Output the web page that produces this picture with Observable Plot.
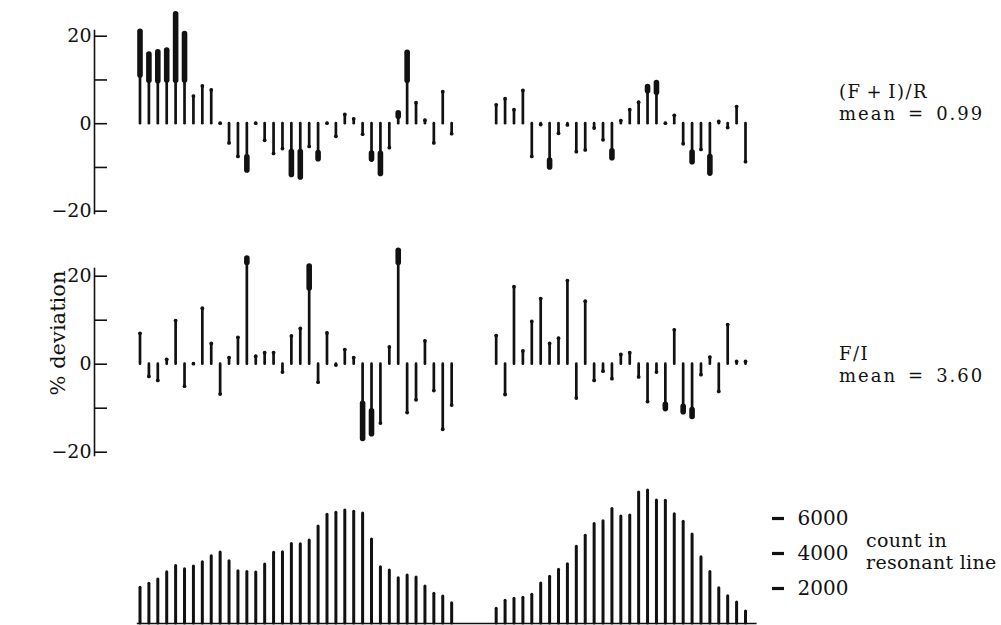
<!DOCTYPE html>
<html><head><meta charset="utf-8">
<script src="https://cdn.jsdelivr.net/npm/d3@7"></script>
<script src="https://cdn.jsdelivr.net/npm/@observablehq/plot@0.6"></script>
<style>
body{margin:0;background:#fff;}
#wrap{position:relative;width:1001px;height:625px;overflow:hidden;font-family:"DejaVu Serif",serif;color:#111;}
#wrap svg{position:absolute;left:0;background:transparent;}
.lab{position:absolute;font-size:20px;line-height:1;white-space:pre;}
</style></head><body><div id="wrap"></div>
<script>
// group sizes (left run, gap in slots, right run)
const groupA = 36, groupGap = 4, groupB = 29;

// (F+I)/R % deviation and error half-widths
const firDev = [16.0,12.8,13.0,13.3,17.4,15.2,6.2,8.5,7.6,0,-4.5,-7.6,-9.2,0,-3.9,-6.9,-5.8,-9.1,-9.4,-5.3,-7.4,0,-3.0,2.0,1.0,-2.5,-7.5,-9.2,-5.6,2.0,13.0,4.7,0.7,-4.5,7.2,-2.4,
  4.2,5.6,3.1,7.5,-7.6,-0.3,-9.2,-2.3,-0.4,-6.5,-6.1,-1.1,-3.8,-7.1,0.6,3.1,4.8,7.9,8.2,0,1.8,-4.7,-7.7,-6.0,-9.5,0.4,-1.0,3.8,-8.8];
const firErr = [5.0,3.0,3.3,3.4,7.6,5.3,0,0,0,0,0,0,1.5,0,0,0,0,2.6,2.9,0,0.7,0,0,0,0,0,0.7,2.3,0,0.4,3.2,0,0,0,0,0,
  0,0,0,0,0,0,0.8,0,0,0,0,0,0,0.8,0,0,0,0.5,1.1,0,0,0,1.1,0,1.9,0,0,0,0];

// F/I % deviation and error half-widths
const fiDev = [6.9,-2.9,-3.8,1.0,9.8,-5.1,0,12.6,4.6,-6.9,1.4,6.0,23.5,1.7,2.5,2.5,-1.9,6.3,8.0,19.7,-4.2,7.0,-0.3,3.2,1.4,-13.0,-13.3,-13.5,3.8,24.4,-11.1,-8.2,5.2,-6.1,-14.9,-9.4,
  6.4,-7.0,17.5,2.9,9.6,14.8,4.6,5.8,18.9,-7.8,14.2,-3.8,-1.7,-3.4,2.1,2.5,-3.0,-8.6,-1.9,-9.7,7.7,-10.3,-11.2,-2.5,1.5,-6.3,8.9,0.5,0.5];
const fiErr = [0,0,0,0,0,0,0,0,0,0,0,0,0.5,0,0,0,0,0,0,2.5,0,0,0,0,0,4.0,2.6,0,0,1.4,0,0,0,0,0,0,
  0,0,0,0,0,0,0,0,0,0,0,0,0,0,0,0,0,0,0,0.5,0,0.6,0.8,0,0,0,0,0,0];

// count in resonant line
const counts = [2040,2270,2510,2930,3280,3100,3260,3500,3850,4060,3560,2990,2950,2910,3370,4040,4070,4550,4530,4740,5540,6210,6330,6460,6380,6290,4800,3220,3030,2590,2740,2630,2110,1700,1540,1160,
  840,1300,1410,1470,1640,2290,2670,3070,3390,4380,5010,5680,5850,6550,6110,6170,7490,7600,7030,7010,6250,5810,5090,3790,2950,2020,1560,1200,690];

const devTicks = [-20,-10,0,10,20];
const devTickLabels = ["\u221220","","0","","20"];
const countTicks = [2000,4000,6000];

const pos = k => (k < groupA ? k : k + groupGap);
const lastSlot = groupA + groupGap + groupB - 1;
const xScale = {domain: [0, lastSlot], range: [139.5, 745], axis: null};
const ink = "#111";
const wrap = document.getElementById("wrap");

function devPanel(dev, err, top, height, yRange, mt, mb) {
  const data = dev.map((v, k) => ({i: pos(k), v, e: err[k]}));
  const svg = Plot.plot({
    width: 1001, height, marginLeft: 94, marginRight: 200, marginTop: mt, marginBottom: mb,
    style: {fontFamily: "DejaVu Serif, serif", fontSize: "19px", color: ink, background: "transparent"},
    x: xScale,
    y: {domain: [-20, 20], range: yRange, axis: null},
    marks: [
      Plot.frame({anchor: "left", stroke: ink, strokeWidth: 1.6}),
      Plot.axisY(devTicks, {anchor: "left", label: null, tickSize: -13, tickPadding: 16, strokeWidth: 1.6, fontSize: 19,
        tickFormat: d => devTickLabels[devTicks.indexOf(d)]}),
      Plot.ruleX(data, {x: "i", y1: 0, y2: "v", stroke: ink, strokeWidth: 2.7, strokeLinecap: "round"}),
      Plot.ruleX(data, {x: "i", y1: d => d.v - d.e, y2: d => d.v + d.e, stroke: ink,
        strokeWidth: d => (d.e > 0 ? 5.6 : 3.8), strokeLinecap: "round"})
    ]
  });
  svg.style.top = top + "px";
  wrap.appendChild(svg);
}

devPanel(firDev, firErr, 0, 240, [210.7, 35.7], 30, 27);
devPanel(fiDev, fiErr, 240, 225, [211.7, 35.7], 28, 10);

const countData = counts.map((c, k) => ({i: pos(k), c}));
const svg3 = Plot.plot({
  width: 1001, height: 160, marginLeft: 94, marginRight: 230, marginTop: 0, marginBottom: 0,
  style: {fontFamily: "DejaVu Serif, serif", fontSize: "20px", color: ink, background: "transparent"},
  x: xScale,
  y: {domain: [0, 6000], range: [158, 53], axis: null},
  marks: [
    Plot.ruleY([0], {x1: -0.3, x2: lastSlot + 1.3, stroke: ink, strokeWidth: 1.5}),
    Plot.ruleX(countData, {x: "i", y1: 0, y2: "c", stroke: ink, strokeWidth: 3, strokeLinecap: "round"}),
    Plot.axisY(countTicks, {anchor: "right", label: null, tickSize: 12, tickPadding: 14, strokeWidth: 3.2, fontSize: 20,
      tickFormat: d3.format("d")})
  ]
});
svg3.style.top = "465px";
wrap.appendChild(svg3);

function label(text, left, baseline, size = 20, spacing = 0) {
  const d = document.createElement("div");
  d.className = "lab";
  d.style.fontSize = size + "px";
  d.style.letterSpacing = spacing + "px";
  d.style.left = left + "px";
  d.style.top = (baseline - 0.846 * size) + "px";
  d.textContent = text;
  wrap.appendChild(d);
}
label("(F\u2009+\u2009I)/R", 839, 98, 18, 1.5);
label("mean\u2002=\u20020.99", 839, 120, 18, 2);
label("F/I", 839, 360, 18, 1.5);
label("mean\u2002=\u20023.60", 839, 382, 18, 2);
label("count in", 866, 547, 19, 0.3);
label("resonant line", 866, 569, 19, 0.3);

const yl = document.createElement("div");
yl.className = "lab";
yl.textContent = "% deviation";
Object.assign(yl.style, {left: "-22px", top: "321px", width: "160px", height: "24px", lineHeight: "24px",
  textAlign: "center", fontSize: "21px", transform: "rotate(-90deg)", transformOrigin: "80px 12px"});
wrap.appendChild(yl);
</script></body></html>
